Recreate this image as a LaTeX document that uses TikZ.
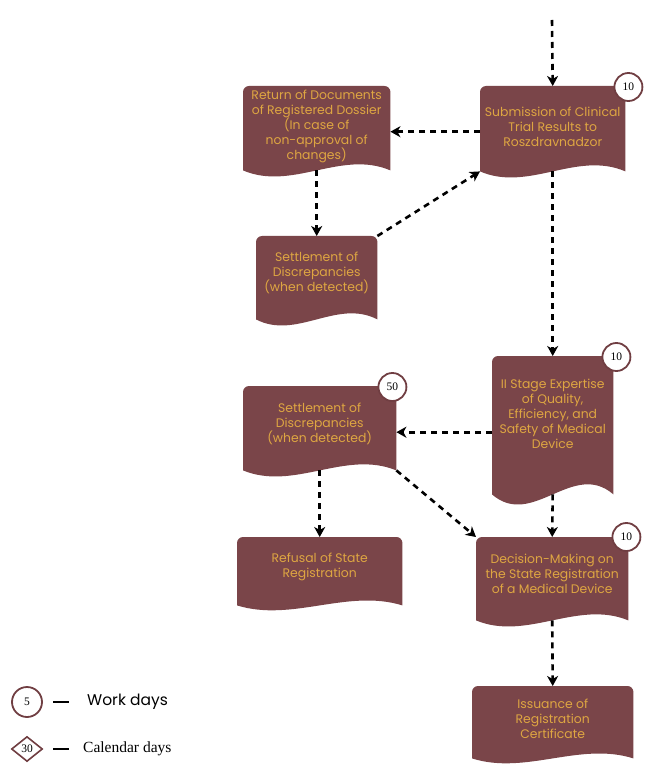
\documentclass[tikz,border=0pt]{standalone}
\usepackage{fontspec}
\setmainfont{Poppins}
\newfontfamily\serifnum{Liberation Serif}
\usetikzlibrary{arrows.meta,calc,backgrounds,shapes.geometric}
\definecolor{docfill}{RGB}{122,69,73}
\definecolor{doctext}{RGB}{222,166,66}
\definecolor{badgeline}{RGB}{112,62,66}
\tikzset{
  doc/.style={anchor=north west, inner sep=0pt, align=center, text=doctext,
    font=\fontsize{12.4}{15}\selectfont},
  badge/.style={circle, draw=badgeline, line width=1.8pt, fill=white,
    minimum size=28pt, inner sep=0pt, font=\serifnum\fontsize{11.5}{12}\selectfont},
  arr/.style={draw=black, line width=2.6pt, dash pattern=on 6pt off 5pt,
    -{Stealth[length=10pt,width=11pt,inset=3pt]}},
}
\newcommand\docshape[2]{%
  \fill[docfill] let \p1=(#1.south west), \p2=(#1.north east) in
    (\x1,\y1) [rounded corners=6pt] -- (\x1,\y2) -- (\x2,\y2) [sharp corners] -- (\x2,\y1)
    .. controls ({\x2-(\x2-\x1)/3},{\y1+#2}) and ({\x1+(\x2-\x1)/3},{\y1-#2}) .. (\x1,\y1) -- cycle;}
\begin{document}
\begin{tikzpicture}[x=1pt,y=-1pt]
\useasboundingbox (0,0) rectangle (664,783);
% boxes
\node[doc, minimum width=145pt, minimum height=85pt, text depth=4pt] (A) at (480,86)
  {Submission of Clinical\\Trial Results to\\Roszdravnadzor};
\node[doc, minimum width=147pt, minimum height=84pt, text depth=6pt] (B) at (243,86)
  {Return of Documents\\of Registered Dossier\\(In case of\\non-approval of\\changes)};
\node[doc, minimum width=121pt, minimum height=83pt, text depth=12pt] (C) at (256,236)
  {Settlement of\\Discrepancies\\(when detected)};
\node[doc, minimum width=121pt, minimum height=138pt, text depth=22pt] (D) at (492,356)
  {II Stage Expertise\\of Quality,\\Efficiency, and\\Safety of Medical\\Device};
\node[doc, minimum width=153pt, minimum height=84pt, text depth=10pt] (E) at (243,386)
  {Settlement of\\Discrepancies\\(when detected)};
\node[doc, minimum width=165pt, minimum height=68pt, text depth=12pt] (F) at (237,537)
  {Refusal of State\\Registration};
\node[doc, minimum width=152pt, minimum height=83pt, text depth=10pt] (G) at (476,537)
  {Decision-Making on\\the State Registration\\of a Medical Device};
\node[doc, minimum width=161pt, minimum height=72pt, text depth=6pt] (H) at (472,686)
  {Issuance of\\Registration\\Certificate};
\begin{pgfonlayer}{background}
  \fill[white] (0,0) rectangle (664,783);
  \docshape{A}{21pt}
  \docshape{B}{21pt}
  \docshape{C}{21pt}
  \docshape{D}{35pt}
  \docshape{E}{21pt}
  \docshape{F}{17pt}
  \docshape{G}{21pt}
  \docshape{H}{17pt}
\end{pgfonlayer}
% badges
\node[badge] (bA) at ($(A.north east)+(3,1)$) {10};
\node[badge] (bD) at ($(D.north east)+(3,1)$) {10};
\node[badge] (bE) at ($(E.north east)+(-4,1)$) {50};
\node[badge] (bG) at ($(G.north east)+(-2,0)$) {10};
% connectors
\coordinate (start) at (552,20);
\draw[arr] (start) -- (A.north);
\draw[arr] ($(A.west)+(0,3)$) coordinate (a1) -- (a1 -| B.east);
\draw[arr] (B.south) -- (C.north);
\draw[arr] (C.north east) -- (A.south west);
\draw[arr] (A.south) -- (D.north);
\draw[arr] ($(D.west)+(0,7)$) coordinate (d1) -- (d1 -| E.east);
\draw[arr] (E.south) -- (F.north);
\draw[arr] (E.south east) -- (G.north west);
\draw[arr] (D.south) -- (G.north);
\draw[arr] (G.south) -- (H.north);
% legend
\node[badge, minimum size=30pt] (L1) at (27,702) {5};
\draw[line width=2pt] (53,702) -- (69,702);
\node[anchor=west, inner sep=0pt, font=\fontsize{15.5}{17}\selectfont] (L1t) at (87,702) {Work days};
\node[diamond, draw=badgeline, line width=1.6pt, fill=white, minimum width=31pt,
  minimum height=25pt, inner sep=0pt, font=\serifnum\fontsize{11.5}{12}\selectfont] (L2) at (27,749) {30};
\draw[line width=2pt] (53,749) -- (69,749);
\node[anchor=west, inner sep=0pt, font=\serifnum\fontsize{15.5}{17}\selectfont] (L2t) at (83,749) {Calendar days};
\end{tikzpicture}
\end{document}
